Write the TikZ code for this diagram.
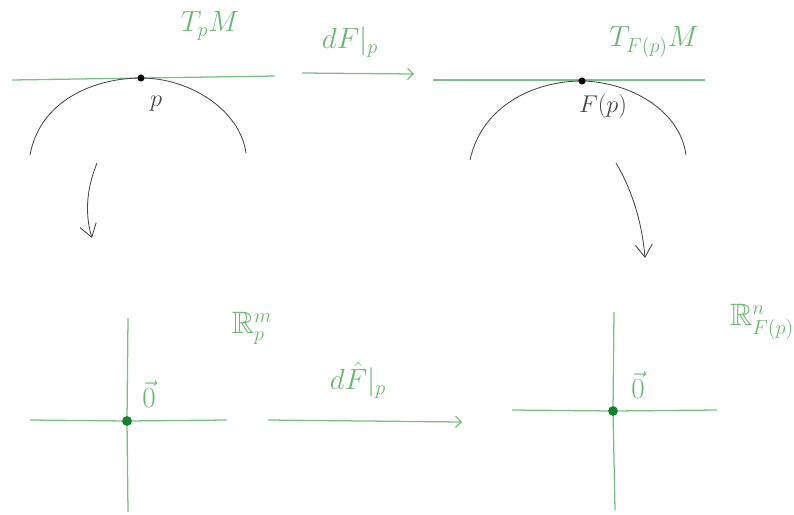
\documentclass[tikz,border=0pt]{standalone}
\usepackage{amssymb}
\usetikzlibrary{arrows.meta, positioning}
\definecolor{penGreen}{RGB}{125,190,135}
\definecolor{inkGreen}{RGB}{110,180,120}
\definecolor{dotGreen}{RGB}{20,130,50}
\definecolor{penGray}{RGB}{70,70,70}

\begin{document}
\begin{tikzpicture}[x=0.025cm, y=-0.025cm]
\tikzset{tline/.style={draw=penGreen, line width=0.9pt},
  curve/.style={draw=penGray, line width=0.6pt},
  lab/.style={text=inkGreen, font=\fontsize{22}{26}\selectfont},
  blab/.style={text=penGray, font=\fontsize{18}{22}\selectfont},
  map/.style={draw=penGreen, line width=0.9pt, -{Straight Barb[length=4pt]}},
  down/.style={draw=penGray, line width=0.6pt, -{Straight Barb[length=9pt, width=12pt]}}}
\useasboundingbox (0,0) rectangle (794,514);
% top row: tangent spaces
\coordinate (L1) at (12,80); \coordinate (L2) at (275,76);
\coordinate (R1) at (433,80); \coordinate (R2) at (705,80);
\draw[tline] (L1) -- (L2);
\draw[tline] (R1) -- (R2);
\coordinate (P) at (141,78);
\coordinate (FP) at (582,81);
\draw[curve] (30,155) .. controls (40,100) and (95,78) .. (P)
  .. controls (190,78) and (240,110) .. (246,153);
\draw[curve] (470,160) .. controls (482,105) and (535,81) .. (FP)
  .. controls (630,82) and (680,110) .. (686,155);
\fill (P) circle (2.5pt) (FP) circle (2.5pt);
\node[blab] (plab) at (156,104) {$p$};
\node[blab] (fplab) at (603,106) {$F(p)$};
\node[lab] (TpM) at (210,26) {$T_pM$};
\node[lab] (TfpM) at (654,42) {$T_{F(p)}M$};
\coordinate (a1) at (302,73); \coordinate (a2) at (414,74);
\draw[map] (a1) -- (a2);
\node[lab] (dF) at (350,42) {$dF|_p$};
% vertical maps
\coordinate (d1) at (97,163); \coordinate (d2) at (92,238);
\draw[down] (d1) .. controls (86,190) and (85,215) .. (d2);
\coordinate (e1) at (616,163); \coordinate (e2) at (645,258);
\draw[down] (e1) .. controls (632,190) and (642,222) .. (e2);
% bottom row: euclidean spaces
\coordinate (O1) at (127,421);
\coordinate (O2) at (613,411);
\draw[tline] (30,420) -- (O1) -- (227,420);
\draw[tline] (128,318) -- (O1) -- (128,512);
\draw[tline] (512,410) -- (O2) -- (717,410);
\draw[tline] (614,312) -- (O2) -- (615,510);
\fill[dotGreen] (O1) circle (3.5pt) (O2) circle (3.5pt);
\node[lab] (zero1) at (149,394) {$\vec{0}$};
\node[lab] (zero2) at (638,385) {$\vec{0}$};
\node[lab] (Rm) at (252,328) {$\mathbb{R}^m_p$};
\node[lab] (Rn) at (762,322) {$\mathbb{R}^n_{F(p)}$};
\coordinate (b1) at (268,420); \coordinate (b2) at (462,422);
\draw[map] (b1) -- (b2);
\node[lab] (dFh) at (358,380) {$d\hat{F}|_p$};
\end{tikzpicture}
\end{document}
